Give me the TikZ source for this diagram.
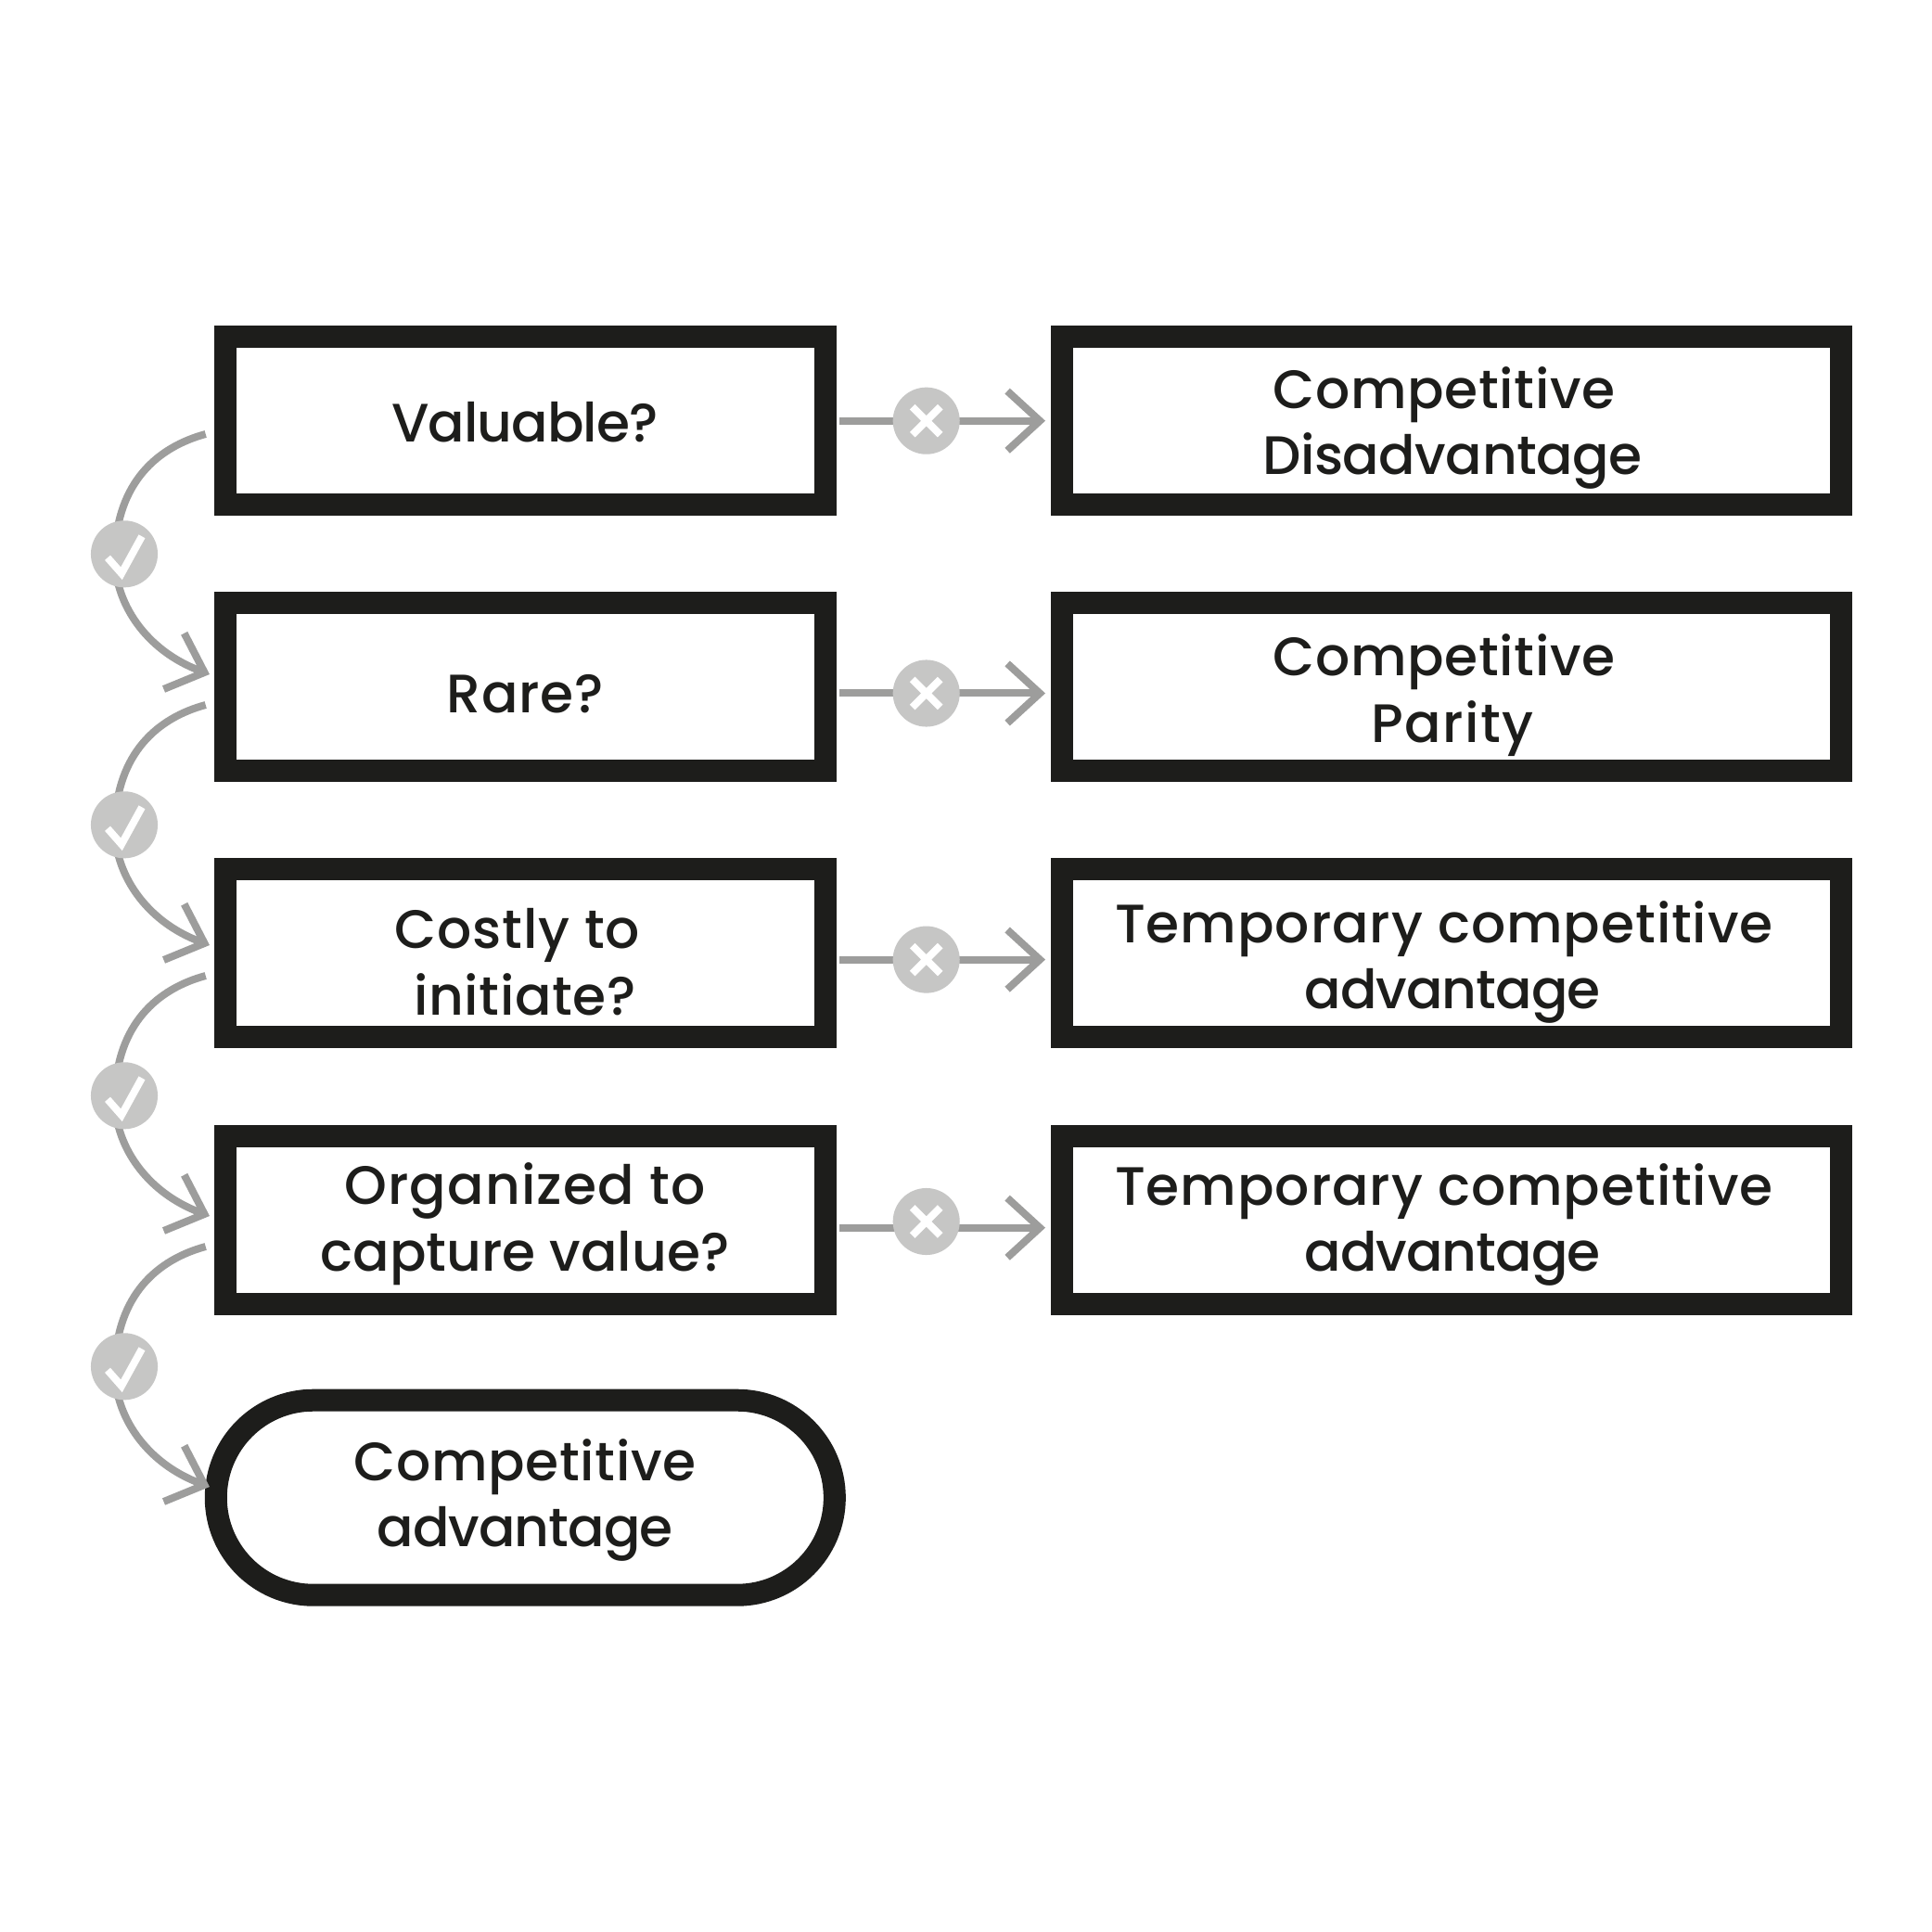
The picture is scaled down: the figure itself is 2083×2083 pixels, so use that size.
\documentclass[tikz,border=0pt]{standalone}
\usepackage{fontspec}
\setmainfont{Poppins Medium}
\usetikzlibrary{arrows.meta,calc}
\definecolor{ink}{HTML}{1D1D1B}
\definecolor{linegrey}{HTML}{9D9D9C}
\definecolor{dotgrey}{HTML}{C6C6C5}
\newcommand{\lsp}[2]{{\addfontfeature{LetterSpace=#1}#2}}
\tikzset{
  x=0.24pt,y=-0.24pt,
  boxA/.style={draw=ink,line width=5.76pt,fill=white,inner sep=0pt,outer sep=0pt,minimum width=155.3pt,minimum height=43.44pt},
  boxB/.style={boxA,minimum width=201.5pt},
  pill/.style={boxA,minimum width=160.1pt,minimum height=50.4pt,rounded corners=25.2pt},
  label/.style={text=ink,inner sep=0pt,font=\fontsize{14pt}{16pt}\selectfont,anchor=base},
  dot/.style={circle,fill=dotgrey,minimum size=17.3pt,inner sep=0pt,outer sep=0pt},
  conn/.style={draw=linegrey,line width=1.92pt},
  tipped/.style={conn,-{Straight Barb[length=8.4pt,width=15.4pt,line cap=butt,line join=miter]}},
  glyph/.style={draw=white,line width=1.9pt}
}
\newcommand{\tickglyph}[1]{\draw[glyph] ($(#1)+(-18,4)$) -- ($(#1)+(-3,21)$) -- ($(#1)+(19,-19)$);}
\newcommand{\crossglyph}[1]{\draw[glyph] ($(#1)+(-15,-15)$) -- ($(#1)+(15,15)$) ($(#1)+(15,-15)$) -- ($(#1)+(-15,15)$);}
\begin{document}
\begin{tikzpicture}
\useasboundingbox[fill=white] (0,0) rectangle (2083,2083);
% boxes
\node[boxA] (a1) at (566.2,453.5) {};
\node[boxA] (a2) at (566.2,740.8) {};
\node[boxA] (a3) at (566.2,1027.5) {};
\node[boxA] (a4) at (566.2,1315.3) {};
\node[pill] (a5) at (566.3,1614.7) {};
\node[boxB] (b1) at (1564.8,453.5) {};
\node[boxB] (b2) at (1564.8,740.8) {};
\node[boxB] (b3) at (1564.8,1027.5) {};
\node[boxB] (b4) at (1564.8,1315.3) {};
% text
\node[label] (t1) at (566,477) {\lsp{-1.7}{Valuable?}};
\node[label] (t2) at (566,769) {\lsp{1.1}{Rare?}};
\node[label] (t3a) at (558,1022) {\lsp{1.4}{Costly to}};
\node[label] (t3b) at (566,1094) {\lsp{1.1}{initiate?}};
\node[label] (t4a) at (566,1298) {\lsp{2}{Organized to}};
\node[label] (t4b) at (566,1370) {capture value?};
\node[label] (t5a) at (566,1596) {\lsp{1.1}{Competitive}};
\node[label] (t5b) at (566,1667) {\lsp{-1.7}{advantage}};
\node[label] (u1a) at (1557,441) {\lsp{1.1}{Competitive}};
\node[label] (u1b) at (1566,512) {\lsp{-0.8}{Disadvantage}};
\node[label] (u2a) at (1557,729) {\lsp{1.1}{Competitive}};
\node[label] (u2b) at (1566,800) {\lsp{2.3}{Parity}};
\node[label] (u3a) at (1557,1016) {\lsp{1.6}{Temporary competitive}};
\node[label] (u3b) at (1566,1087) {\lsp{-1.7}{advantage}};
\node[label] (u4a) at (1557,1299) {\lsp{1.6}{Temporary competitive}};
\node[label] (u4b) at (1566,1370) {\lsp{-1.7}{advantage}};
% right connectors
\foreach \i/\ly/\cy in {1/453.7/453.7,2/747.5/747.5,3/1034.6/1034.6,4/1323.7/1317}{
  \coordinate (xs\i) at (905,\ly);
  \coordinate (xe\i) at (1127,\ly);
  \draw[tipped] (xs\i) -- (xe\i);
  \node[dot] (xc\i) at (998.7,\cy) {};
  \crossglyph{xc\i}
}
% left connectors
\foreach \i/\yy in {1/0,2/292,3/584,4/876}{
  \coordinate (cs\i) at (221.7,468+\yy);
  \coordinate (ce\i) at (226,727+\yy);
  \coordinate (cm\i) at (124,597.3+\yy);
  \draw[conn] (cs\i) .. controls (170,482+\yy) and (126,520+\yy) .. (cm\i);
  \draw[tipped] (cm\i) .. controls (122,650+\yy) and (158,702+\yy) .. (ce\i);
  \node[dot] (cc\i) at (134,597.3+\yy) {};
  \tickglyph{cc\i}
}
\end{tikzpicture}
\end{document}
